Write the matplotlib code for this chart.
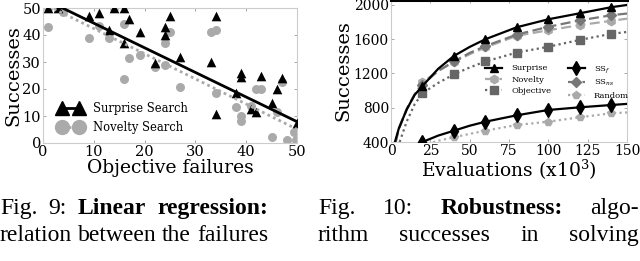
import matplotlib
matplotlib.use("Agg")
import matplotlib.pyplot as plt
from matplotlib.lines import Line2D
import numpy as np

# ---------------- Data: Fig. 9 (left) ----------------
surprise_fail = [1, 3, 9, 11, 13, 14, 16, 16, 17, 19, 22, 24, 24, 25, 27, 33, 34, 34,
                 38, 39, 39, 41, 42, 43, 45, 46, 47, 50]
surprise_succ = [50, 50, 47, 48, 42, 50, 50, 37, 46, 41, 29.5, 43, 40, 47, 32, 30, 47, 10.6,
                 18.6, 26, 24.5, 12.5, 11.6, 25, 15, 20, 24, 7.5]
novelty_fail = [1, 1, 4, 9, 11, 13, 14, 16, 16, 17, 19, 22, 24, 24, 25, 27, 33, 34, 34,
                38, 39, 39, 41, 42, 43, 45, 46, 47, 48, 49.5, 49.8]
novelty_succ = [50, 43, 48.6, 39, 43.3, 39, 50, 44, 23.7, 31.5, 32.6, 28, 29, 37, 41, 20.6,
                41, 42, 18.5, 13.5, 10, 8, 13.7, 20, 20, 2.3, 11.5, 22.5, 1.2, 4, 1]
fit_x = [0, 50]
surprise_fit = [53.5, 7.9]
novelty_fit = [51.7, 5.1]
left_ticks = [0, 10, 20, 30, 40, 50]

# ---------------- Data: Fig. 10 (right) ----------------
marker_evals = [20, 40, 60, 80, 100, 120, 140]
surprise_x = [2.5, 5, 10, 15, 20, 30, 40, 50, 60, 80, 100, 120, 140, 150]
surprise_y = [400, 560, 780, 950, 1054, 1255, 1405, 1510, 1600, 1740, 1833, 1903, 1974, 2000]
novelty_x = [3, 5, 10, 15, 20, 30, 40, 50, 60, 80, 100, 120, 140, 150]
novelty_y = [400, 560, 790, 960, 1095, 1230, 1335, 1425, 1505, 1640, 1705, 1765, 1815, 1840]
objective_x = [5.5, 10, 15, 20, 30, 40, 50, 60, 80, 100, 120, 140, 150]
objective_y = [400, 640, 840, 969, 1090, 1190, 1270, 1340, 1445, 1512, 1592, 1663, 1685]
ssf_x = [20, 30, 40, 50, 60, 80, 100, 120, 140, 150]
ssf_y = [400, 475, 532, 590, 637, 712, 774, 805, 832, 845]
ssns_x = [3, 5, 10, 15, 20, 30, 40, 50, 60, 80, 100, 120, 140, 150]
ssns_y = [400, 550, 780, 950, 1070, 1230, 1340, 1440, 1520, 1655, 1745, 1820, 1880, 1900]
random_x = [20, 30, 40, 50, 60, 80, 100, 120, 140, 150]
random_y = [360, 415, 455, 495, 532, 599, 637, 689, 735, 745]
right_xticks = [0, 25, 50, 75, 100, 125, 150]
right_yticks = [400, 800, 1200, 1600, 2000]

plt.rcParams['mathtext.fontset'] = 'dejavuserif'
SERIF = ['DejaVu Serif']
LIGHT = '#aaaaaa'
DARK = '#666666'
SPINE = '#cccccc'

W, H = 640, 261
fig = plt.figure(figsize=(W / 100, H / 100), dpi=100)

def ax_rect(l, t, r, b):
    return [l / W, 1 - b / H, (r - l) / W, (b - t) / H]

def style_axes(ax, ticksize):
    for s in ax.spines.values():
        s.set_color(SPINE)
        s.set_linewidth(0.8)
    ax.tick_params(which='both', direction='in', length=2, width=0.6, color='#999999',
                   top=True, right=True, pad=1.5, labelsize=ticksize)
    for lab in ax.get_xticklabels() + ax.get_yticklabels():
        lab.set_family(SERIF)

# ---------- Left plot ----------
ax1 = fig.add_axes(ax_rect(43, 8, 297, 143))
ax1.scatter(novelty_fail, novelty_succ, marker='o', s=42, color=LIGHT, linewidths=0, zorder=2)
ax1.scatter(surprise_fail, surprise_succ, marker='^', s=48, color='black', linewidths=0, zorder=3)
ax1.plot(fit_x, surprise_fit, color='black', lw=2, zorder=4)
ax1.plot(fit_x, novelty_fit, color=LIGHT, lw=2, ls=(0, (1, 1.2)), zorder=4)
ax1.set_xlim(0, 50)
ax1.set_ylim(0, 50)
ax1.set_xticks(left_ticks)
ax1.set_yticks(left_ticks)
style_axes(ax1, 10.5)
ax1.set_xlabel('Objective failures', family=SERIF, fontsize=13.5, labelpad=0)
ax1.set_ylabel('Successes', family=SERIF, fontsize=14, labelpad=0)
h1 = Line2D([], [], color='black', lw=2, marker='^', ms=10)
h2 = Line2D([], [], color=LIGHT, lw=2, ls=(0, (1, 1.2)), marker='o', ms=10)
ax1.legend([h1, h2], ['Surprise Search', 'Novelty Search'], loc='upper left',
           bbox_to_anchor=(0.06, 0.305), frameon=False, numpoints=2, borderpad=0,
           borderaxespad=0, handlelength=2.1, handletextpad=0.9, labelspacing=0.5,
           prop={'family': SERIF, 'size': 8.3})

# ---------- Right plot ----------
ax2 = fig.add_axes(ax_rect(391, 0, 627, 142))

def mk(xs):
    return [i for i, x in enumerate(xs) if x in marker_evals]

ax2.plot(surprise_x, surprise_y, color='black', lw=1.6, marker='^', ms=6,
         markevery=mk(surprise_x), label='Surprise', zorder=6)
ax2.plot(novelty_x, novelty_y, color=LIGHT, lw=1.6, ls=(0, (4.5, 2)), marker='h', ms=6,
         markevery=mk(novelty_x), label='Novelty', zorder=4)
ax2.plot(objective_x, objective_y, color=DARK, lw=1.6, ls=(0, (1, 1.5)), marker='s', ms=6,
         markevery=mk(objective_x), label='Objective', zorder=3)
ax2.plot(ssf_x, ssf_y, color='black', lw=1.6, marker='d', ms=7,
         markevery=mk(ssf_x), label='SS$_f$', zorder=5)
ax2.plot(ssns_x, ssns_y, color='#777777', lw=1.6, ls=(0, (4.5, 2)), marker='D', ms=5,
         markevery=mk(ssns_x), label='SS$_{ns}$', zorder=5)
ax2.plot(random_x, random_y, color=LIGHT, lw=1.6, ls=(0, (1, 1.5)), marker='p', ms=6,
         markevery=mk(random_x), label='Random', zorder=3)
ax2.set_xlim(0, 150)
ax2.set_ylim(400, 2058)
ax2.set_xticks(right_xticks)
ax2.set_yticks(right_yticks)
style_axes(ax2, 10)
ax2.spines['top'].set_color('black')
ax2.spines['top'].set_linewidth(2.2)
ax2.set_xlabel('Evaluations (x10$^3$)', family=SERIF, fontsize=13.5, labelpad=0)
ax2.set_ylabel('Successes', family=SERIF, fontsize=14, labelpad=1)
ax2.legend(loc='upper left', bbox_to_anchor=(0.40, 0.55), ncol=2, frameon=False,
           borderpad=0, borderaxespad=0, handlelength=2.0, handletextpad=1.1,
           labelspacing=0.4, columnspacing=2.0, prop={'family': SERIF, 'size': 6})

# ---------- Captions ----------
CAP = ['Liberation Serif', 'DejaVu Serif']
renderer = fig.canvas.get_renderer()
probe = fig.text(0, 0, 'relation between the failures', family=CAP, fontsize=10)
CAPSIZE = 10 * 268 / probe.get_window_extent(renderer).width
probe.remove()

def justified(words, x0, x1, ybase):
    texts = []
    for w, bold in words:
        t = fig.text(0, 1 - ybase / H, w, family=CAP, fontsize=CAPSIZE,
                     fontweight='bold' if bold else 'normal', va='baseline', ha='left')
        texts.append(t)
    widths = [t.get_window_extent(renderer).width for t in texts]
    gap = (x1 - x0 - sum(widths)) / max(len(words) - 1, 1)
    x = x0
    for t, w in zip(texts, widths):
        t.set_x(x / W)
        x += w + gap

justified([('Fig.', 0), ('9:', 0), ('Linear', 1), ('regression:', 1)], 0, 268, 214)
justified([('relation', 0), ('between', 0), ('the', 0), ('failures', 0)], 0, 268, 241)
justified([('Fig.', 0), ('10:', 0), ('Robustness:', 1), ('algo-', 0)], 318, 639, 214)
justified([('rithm', 0), ('successes', 0), ('in', 0), ('solving', 0)], 318, 639, 241)

fig.savefig('out.png', dpi=100)
